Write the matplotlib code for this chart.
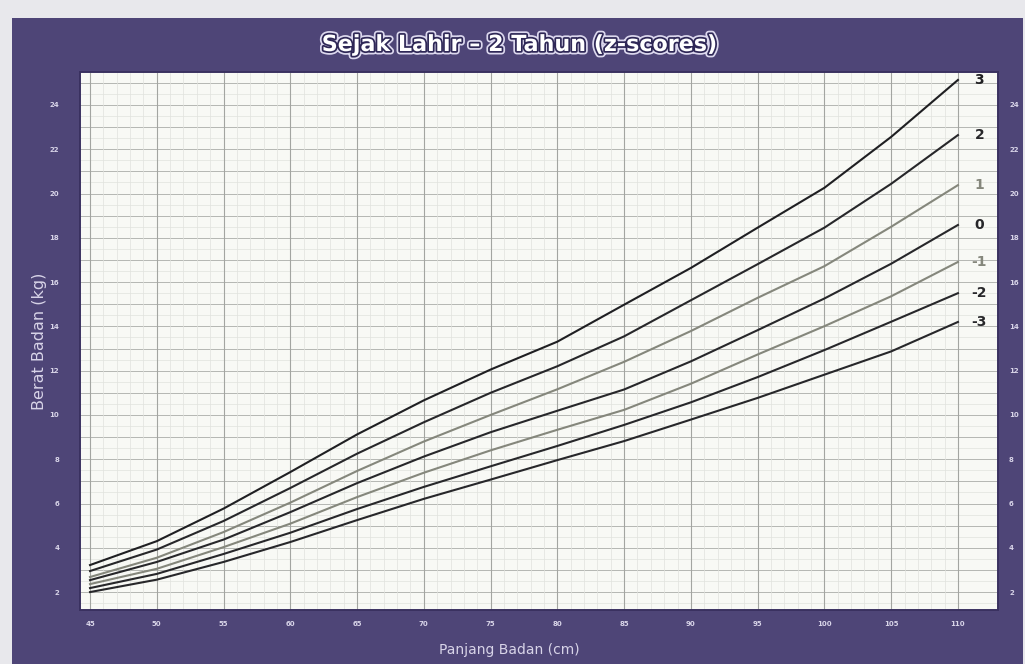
import numpy as np
import matplotlib
matplotlib.use("Agg")
import matplotlib.pyplot as plt
import matplotlib.patheffects as pe
from matplotlib.patches import Rectangle

# panjang badan (cm) dan berat badan (kg) tiap garis z-score
panjang = [45, 50, 55, 60, 65, 70, 75, 80, 85, 90, 95, 100, 105, 110]
sd3 = [3.22, 4.30, 5.77, 7.42, 9.12, 10.66, 12.05, 13.31, 14.98, 16.64, 18.46, 20.26, 22.56, 25.13]
sd2 = [2.95, 3.92, 5.21, 6.70, 8.25, 9.67, 11.00, 12.20, 13.55, 15.18, 16.81, 18.46, 20.44, 22.64]
sd1 = [2.68, 3.55, 4.71, 6.04, 7.47, 8.80, 10.00, 11.16, 12.40, 13.79, 15.29, 16.72, 18.50, 20.38]
sd0 = [2.54, 3.36, 4.37, 5.61, 6.92, 8.12, 9.22, 10.19, 11.15, 12.42, 13.83, 15.26, 16.83, 18.58]
sd_1 = [2.36, 3.05, 4.03, 5.09, 6.29, 7.39, 8.40, 9.33, 10.23, 11.41, 12.73, 14.01, 15.36, 16.91]
sd_2 = [2.18, 2.82, 3.72, 4.68, 5.75, 6.75, 7.68, 8.60, 9.55, 10.57, 11.71, 12.93, 14.21, 15.50]
sd_3 = [2.00, 2.56, 3.36, 4.26, 5.25, 6.21, 7.08, 7.96, 8.82, 9.79, 10.77, 11.82, 12.87, 14.20]

garis = [sd3, sd2, sd1, sd0, sd_1, sd_2, sd_3]
label_z = ["3", "2", "1", "0", "-1", "-2", "-3"]
warna = ["#1f1f22", "#27272a", "#85877c", "#27272a", "#85877c", "#27272a", "#27272a"]
berat_tick = list(range(2, 25, 2))

W, H = 1025, 664
fig = plt.figure(figsize=(W / 100, H / 100), dpi=100)
fig.patch.set_facecolor("#e8e8ec")
# panel ungu di belakang grafik
fig.patches.append(Rectangle((12 / W, 0), 1011 / W, 646 / H, transform=fig.transFigure,
                             facecolor="#4e4577", edgecolor="none", zorder=-10))

ax = fig.add_axes([80 / W, 54 / H, 918 / W, 538 / H])
ax.set_facecolor("#f8f9f5")
ax.set_xlim(44.25, 113.0)
ax.set_ylim(1.19, 25.49)

# kisi-kisi
for v in np.arange(1.5, 25.5, 1):
    ax.axhline(v, color="#e1e3de", lw=0.5, zorder=1)
for v in np.arange(2, 26, 1):
    ax.axhline(v, color="#b4b6b2", lw=0.7, zorder=1)
for v in range(45, 111):
    ax.axvline(v, color="#e0e2dd", lw=0.5, zorder=1)
for v in range(45, 111, 5):
    ax.axvline(v, color="#a3a5a1", lw=0.8, zorder=1)

for y, lbl, c in zip(garis, label_z, warna):
    ax.plot(panjang, y, color=c, lw=1.5, zorder=3, solid_joinstyle="round")
    ax.text(111.6, y[-1], lbl, ha="center", va="center", fontsize=10,
            fontweight="bold", color=c, zorder=4)

ax.set_xticks(panjang)
ax.set_yticks(berat_tick)
ax.tick_params(axis="both", length=0, labelsize=5, labelcolor="#d8d4e8")
ax.tick_params(axis="y", pad=15)
ax.tick_params(axis="x", pad=8)

# label berat di sisi kanan
ax2 = ax.twinx()
ax2.set_ylim(ax.get_ylim())
ax2.set_yticks(berat_tick)
ax2.tick_params(axis="y", length=0, labelsize=5, labelcolor="#d8d4e8", pad=8)

for lab in ax.get_xticklabels() + ax.get_yticklabels() + ax2.get_yticklabels():
    lab.set_fontweight("bold")
for a in (ax, ax2):
    for s in a.spines.values():
        s.set_color("#3a3160")
        s.set_linewidth(1.2)

ax.set_ylabel("Berat Badan (kg)", fontsize=11.5, color="#d8d4e8")
ax.yaxis.set_label_coords(-0.036, 0.5)
ax.set_xlabel("Panjang Badan (cm)", fontsize=10, color="#d8d4e8")
ax.xaxis.set_label_coords(0.468, -0.061)

fig.text(520 / W, 1 - 45 / H, "Sejak Lahir – 2 Tahun (z-scores)", ha="center", va="center",
         fontsize=16, fontweight="bold", color="#ffffff",
         path_effects=[pe.Stroke(linewidth=5, foreground="#dcd8ee"),
                       pe.Stroke(linewidth=2.5, foreground="#2e2756"),
                       pe.Normal()])

fig.savefig("out.png", dpi=100, facecolor=fig.get_facecolor())
